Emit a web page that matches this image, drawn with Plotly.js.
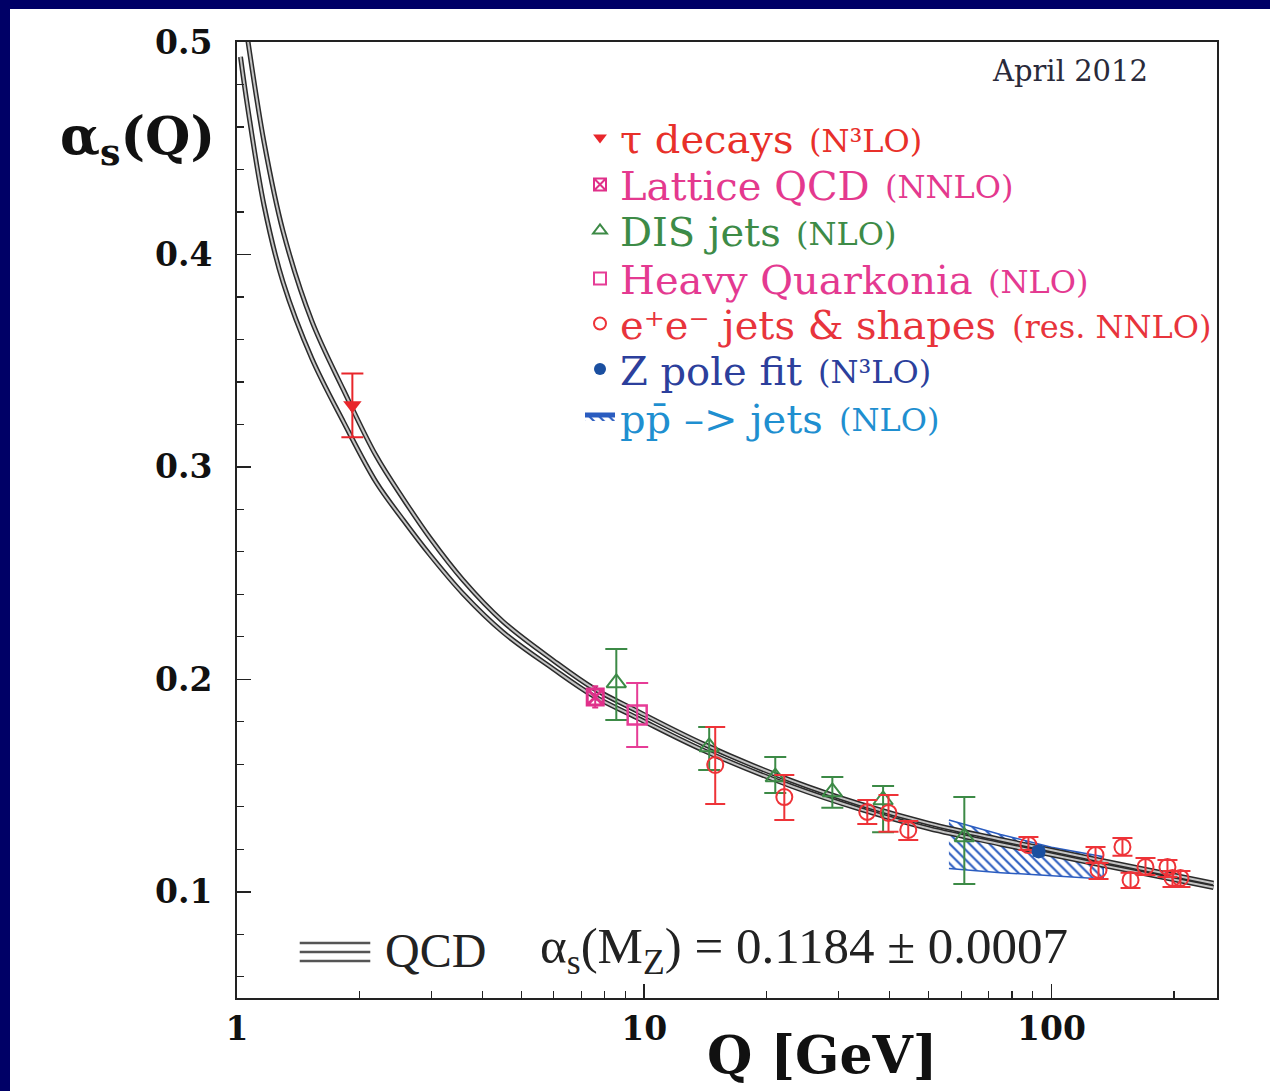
<!DOCTYPE html>
<html><head><meta charset="utf-8">
<script src="https://cdn.plot.ly/plotly-3.0.1.min.js"></script>
<style>
html,body{margin:0;padding:0;background:#000066;width:1270px;height:1091px;overflow:hidden;}
#chart{position:absolute;left:10px;top:9px;width:1260px;height:1082px;}
</style></head><body><div id="chart"></div>
<script>
// QCD running coupling band edges
const qcdQ     = [1.02, 1.062, 1.165, 1.297, 1.527, 1.827, 2.196, 2.56, 2.98, 3.59, 4.5, 5.97, 7.5, 9.6, 14, 23, 34, 50, 75, 130, 250];
const qcdUpper = [0.525, 0.5014, 0.4529, 0.411, 0.3686, 0.3361, 0.3052, 0.285, 0.2665, 0.2467, 0.2272, 0.209, 0.1958, 0.1851, 0.1695, 0.1523, 0.1412, 0.1322, 0.1246, 0.1151, 0.104];
const qcdLower = [0.493, 0.4694, 0.4231, 0.387, 0.351, 0.3211, 0.2928, 0.275, 0.2585, 0.2403, 0.2222, 0.205, 0.1922, 0.1819, 0.1665, 0.1497, 0.1388, 0.1298, 0.1224, 0.1129, 0.102];

// tau decays
const tauQ = [1.92];
const tauA = [0.329];
const tauErr = [0.015];

// Lattice QCD
const latQ = [7.58];
const latA = [0.1917];
const latErr = [0.005];

// DIS jets
const disQ = [8.54, 14.44, 20.98, 28.97, 38.6, 61.1];
const disA = [0.1983, 0.1682, 0.154, 0.147, 0.1432, 0.1258];
const disErrPlus = [0.016, 0.0094, 0.0095, 0.007, 0.0066, 0.0188];
const disErrMinus = [0.0174, 0.0109, 0.0075, 0.0075, 0.0152, 0.0221];

// Heavy Quarkonia
const hqQ = [9.61];
const hqA = [0.1832];
const hqErr = [0.0151];

// e+e- jets & shapes
const eeQ = [14.94, 22.08, 35.3, 39.8, 44.5, 87.8, 128.3, 130.5, 149.4, 156.4, 170.2, 192.7, 198.3, 207.4];
const eeA = [0.1597, 0.1446, 0.1376, 0.1371, 0.1291, 0.122, 0.1173, 0.1103, 0.1211, 0.1056, 0.1117, 0.1117, 0.1065, 0.1065];
const eeErrPlus  = [0.0179, 0.0104, 0.0056, 0.0085, 0.0042, 0.0038, 0.0038, 0.0033, 0.0042, 0.0033, 0.0042, 0.0033, 0.0033, 0.0033];
const eeErrMinus = [0.0184, 0.0108, 0.0057, 0.0089, 0.0047, 0.0023, 0.0037, 0.0043, 0.0042, 0.0038, 0.0038, 0.0047, 0.0042, 0.0042];

// Z pole fit
const zQ = [93];
const zA = [0.119];
const zErr = [0.002];

// pp -> jets region (polygon outline)
const ppQ = [56, 75, 100, 134, 134, 100, 75, 56];
const ppA = [0.1338, 0.127, 0.121, 0.1165, 0.106, 0.1075, 0.109, 0.111];

// legend texts
const legendMain  = ['τ decays', 'Lattice QCD', 'DIS jets', 'Heavy Quarkonia', 'e⁺e⁻ jets &amp; shapes', 'Z pole fit', 'pp̄ –&gt; jets'];
const legendParen = ['(N³LO)', '(NNLO)', '(NLO)', '(NLO)', '(res. NNLO)', '(N³LO)', '(NLO)'];
const legendColors = ['#e8302a', '#e4398e', '#3d8b47', '#e43a91', '#e8343c', '#2c3f9c', '#1f8fd0'];

const serif = 'DejaVu Serif';
const mainSize = 40, parenSize = 32;
const rowPageY = [137.5, 184.5, 230.5, 278.5, 323.5, 369, 417];
const legendLeftPage = 580, textStartPage = 621;
const plotL = 237, plotW = 980, plotB = 998, plotH = 956;

function measure(html, size) {
  const ctx = document.createElement('canvas').getContext('2d');
  const s = html.replace(/&amp;/g, '&').replace(/&gt;/g, '>');
  ctx.font = size + 'px "' + serif + '"';
  return ctx.measureText(s).width;
}

const dark = '#2b2b2b', light = '#c4c4c4';
const traces = [
  {type:'scatter', x:ppQ, y:ppA, mode:'lines', fill:'toself', name:legendMain[6], legend:'legend7',
   line:{color:'#2a5cc0', width:1.5}, fillcolor:'rgba(255,255,255,0)',
   fillpattern:{shape:'\\', fgcolor:'#2a5cc0', bgcolor:'rgba(255,255,255,0)', size:7, solidity:0.3}},
  {type:'scatter', x:qcdQ, y:qcdLower, mode:'lines', showlegend:false, hoverinfo:'skip', line:{color:dark, width:5, shape:'spline'}},
  {type:'scatter', x:qcdQ, y:qcdLower, mode:'lines', showlegend:false, hoverinfo:'skip', line:{color:light, width:2, shape:'spline'}},
  {type:'scatter', x:qcdQ, y:qcdUpper, mode:'lines', showlegend:false, hoverinfo:'skip', line:{color:dark, width:5, shape:'spline'}},
  {type:'scatter', x:qcdQ, y:qcdUpper, mode:'lines', showlegend:false, hoverinfo:'skip', line:{color:light, width:2, shape:'spline'}},
  {type:'scatter', x:tauQ, y:tauA, mode:'markers', name:legendMain[0], legend:'legend',
   marker:{symbol:'triangle-down', size:16, color:'#e8262b'},
   error_y:{type:'data', array:tauErr, color:'#e8262b', thickness:2, width:11}},
  {type:'scatter', x:latQ, y:latA, mode:'markers', name:legendMain[1], legend:'legend2',
   marker:{symbol:'square-x-open', size:16, color:'#e0308a', line:{width:3, color:'#e0308a'}},
   error_y:{type:'data', array:latErr, color:'#e0308a', thickness:2, width:3}},
  {type:'scatter', x:disQ, y:disA, mode:'markers', name:legendMain[2], legend:'legend3',
   marker:{symbol:'triangle-up-open', size:17, color:'#3c8a46', line:{width:2, color:'#3c8a46'}},
   error_y:{type:'data', symmetric:false, array:disErrPlus, arrayminus:disErrMinus, color:'#3c8a46', thickness:2, width:11}},
  {type:'scatter', x:hqQ, y:hqA, mode:'markers', name:legendMain[3], legend:'legend4',
   marker:{symbol:'square-open', size:19, color:'#e63c96', line:{width:2.5, color:'#e63c96'}},
   error_y:{type:'data', array:hqErr, color:'#e63c96', thickness:2, width:11}},
  {type:'scatter', x:eeQ, y:eeA, mode:'markers', name:legendMain[4], legend:'legend5',
   marker:{symbol:'circle-open', size:16, color:'#ee3338', line:{width:2, color:'#ee3338'}},
   error_y:{type:'data', symmetric:false, array:eeErrPlus, arrayminus:eeErrMinus, color:'#ee3338', thickness:2, width:10}},
  {type:'scatter', x:zQ, y:zA, mode:'markers', name:legendMain[5], legend:'legend6',
   marker:{symbol:'circle', size:14, color:'#1a4fa0'},
   error_y:{type:'data', array:zErr, color:'#1a4fa0', thickness:2, width:6}}
];

const layout = {
  width:1260, height:1082,
  paper_bgcolor:'#ffffff', plot_bgcolor:'#ffffff',
  margin:{l:227, r:53, t:33, b:93},
  showlegend:true,
  xaxis:{type:'log', range:[0, Math.log10(255)], showline:true, linecolor:'#222', linewidth:2, mirror:true,
         showgrid:false, zeroline:false, ticks:'inside', ticklen:14, tickwidth:1.5, tickcolor:'#222',
         tickvals:[1,10,100], ticktext:['1','10','100'], ticklabelstandoff:0,
         tickfont:{family:serif, size:33, color:'#111', weight:'bold'},
         minor:{ticks:'inside', ticklen:7, tickwidth:1.2, tickcolor:'#222',
                tickvals:[2,3,4,5,6,7,8,9,20,30,40,50,60,70,80,90,200], showgrid:false}},
  yaxis:{range:[0.05, 0.5], showline:true, linecolor:'#222', linewidth:2, mirror:true,
         showgrid:false, zeroline:false, ticks:'inside', ticklen:14, tickwidth:1.5, tickcolor:'#222',
         tick0:0.1, dtick:0.1, tickformat:'.1f', ticklabelstandoff:16,
         tickfont:{family:serif, size:33, color:'#111', weight:'bold'},
         minor:{ticks:'inside', ticklen:7, tickwidth:1.2, tickcolor:'#222', dtick:0.02, tick0:0.1, showgrid:false}},
  annotations:[
    {xref:'paper', yref:'paper', x:0.850, y:0.970, text:'April 2012', showarrow:false,
     xanchor:'center', yanchor:'middle', font:{family:serif, size:29, color:'#2a2a3a'}},
    {xref:'paper', yref:'paper', x:-0.102, y:0.8975, text:'α<sub>s</sub>(Q)', showarrow:false,
     xanchor:'center', yanchor:'middle', font:{family:serif, size:52, color:'#111', weight:'bold'}},
    {xref:'paper', yref:'paper', x:0.597, y:-0.0596, text:'Q [GeV]', showarrow:false,
     xanchor:'center', yanchor:'middle', font:{family:serif, size:52, color:'#111', weight:'bold'}},
    {xref:'paper', yref:'paper', x:(383-237)/980, y:0.050, text:'QCD', showarrow:false,
     xanchor:'left', yanchor:'middle', font:{family:'Liberation Serif', size:48, color:'#222'}},
    {xref:'paper', yref:'paper', x:(538-237)/980, y:0.050, text:'α<sub>s</sub>(M<sub>Z</sub>) = 0.1184 ± 0.0007', showarrow:false,
     xanchor:'left', yanchor:'middle', font:{family:'Liberation Serif', size:51, color:'#222'}}
  ],
  shapes:[
    {type:'line', xref:'paper', yref:'paper', x0:0.064, x1:0.136, y0:0.0575, y1:0.0575, line:{color:'#555', width:2.5}},
    {type:'line', xref:'paper', yref:'paper', x0:0.064, x1:0.136, y0:0.0481, y1:0.0481, line:{color:'#555', width:2.5}},
    {type:'line', xref:'paper', yref:'paper', x0:0.064, x1:0.136, y0:0.0387, y1:0.0387, line:{color:'#555', width:2.5}}
  ]
};

// one legend per row, each with its own colour; parenthetical order labels as annotations
for (let i = 0; i < legendMain.length; i++) {
  const key = i === 0 ? 'legend' : 'legend' + (i + 1);
  const yPaper = (plotB - rowPageY[i]) / plotH;
  layout[key] = {x:(legendLeftPage - plotL) / plotW, y:yPaper, xanchor:'left', yanchor:'middle',
                 bgcolor:'rgba(0,0,0,0)', itemsizing:'constant',
                 font:{family:serif, size:mainSize, color:legendColors[i]}};
  const px = textStartPage + measure(legendMain[i] + ' ', mainSize);
  layout.annotations.push({xref:'paper', yref:'paper', x:(px - plotL) / plotW, y:yPaper, yshift:-3,
    text:legendParen[i], showarrow:false, xanchor:'left', yanchor:'middle',
    font:{family:serif, size:parenSize, color:legendColors[i]}});
}

Plotly.newPlot('chart', traces, layout, {displayModeBar:false, staticPlot:true});
</script></body></html>
